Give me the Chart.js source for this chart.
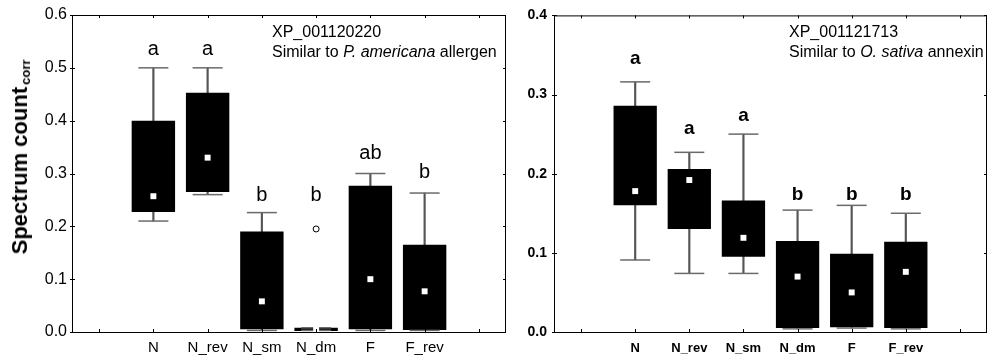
<!DOCTYPE html>
<html>
<head>
<meta charset="utf-8">
<script src="https://cdn.jsdelivr.net/npm/chart.js@4.4.1/dist/chart.umd.min.js"></script>
<style>
  body { margin: 0; background: #fff; font-family: "Liberation Sans", Arial, sans-serif; }
  #wrap { position: relative; width: 987px; height: 355px; overflow: hidden; }
  canvas { position: absolute; top: 0; }
  .note { position: absolute; font-size: 16px; line-height: 20px; color: #000; white-space: nowrap; }
  #ytitle { position: absolute; left: 20px; top: 157px; transform: translate(-50%, -50%) rotate(-90deg);
            font-weight: bold; font-size: 22px; white-space: nowrap; }
  #ytitle sub { font-size: 13px; vertical-align: -3px; margin-left: 2px; }
</style>
</head>
<body>
<div id="wrap">
  <canvas id="leftChart" width="510" height="355" style="left:0"></canvas>
  <canvas id="rightChart" width="477" height="355" style="left:510px"></canvas>
  <div id="ytitle">Spectrum count<sub>corr</sub></div>
  <div class="note" style="left:272px; top:22px">XP_001120220<br>Similar to <i>P. americana</i> allergen</div>
  <div class="note" style="left:789px; top:22px">XP_001121713<br>Similar to <i>O. sativa</i> annexin</div>
</div>
<script>
const labels = ['', 'N', 'N_rev', 'N_sm', 'N_dm', 'F', 'F_rev', ''];

// left panel: XP_001120220
const leftMin    = [null, 0.210, 0.260, 0.003, 0.003, 0.003, 0.003, null];
const leftQ1     = [null, 0.227, 0.265, 0.005, 0.002, 0.005, 0.004, null];
const leftMedian = [null, 0.257, 0.330, 0.058, 0.005, 0.100, 0.077, null];
const leftQ3     = [null, 0.400, 0.453, 0.190, 0.008, 0.277, 0.165, null];
const leftMax    = [null, 0.500, 0.500, 0.226, 0.008, 0.300, 0.263, null];
const leftOutlier = [null, null, null, null, 0.195, null, null, null];
const leftLetters = ['', 'a', 'a', 'b', 'b', 'ab', 'b', ''];
const leftLetterY = [null, 0.534, 0.534, 0.259, 0.259, 0.338, 0.301, null];

// right panel: XP_001121713
const rightMin    = [null, 0.091, 0.074, 0.074, 0.004, 0.005, 0.004, null];
const rightQ1     = [null, 0.160, 0.130, 0.095, 0.005, 0.006, 0.005, null];
const rightMedian = [null, 0.178, 0.192, 0.119, 0.070, 0.050, 0.076, null];
const rightQ3     = [null, 0.286, 0.206, 0.166, 0.115, 0.099, 0.114, null];
const rightMax    = [null, 0.316, 0.227, 0.250, 0.154, 0.160, 0.150, null];
const rightOutlier = [null, null, null, null, null, null, null, null];
const rightLetters = ['', 'a', 'a', 'a', 'b', 'b', 'b', ''];
const rightLetterY = [null, 0.345, 0.257, 0.273, 0.174, 0.174, 0.174, null];

const FONT = '"Liberation Sans", Arial, sans-serif';

// box frame with small inward ticks on all four sides
const framePlugin = {
  id: 'frame',
  afterDraw(chart) {
    const ctx = chart.ctx, a = chart.chartArea;
    const xs = chart.scales.x, ys = chart.scales.y;
    ctx.save();
    ctx.strokeStyle = '#000';
    ctx.lineWidth = 1;
    ctx.strokeRect(a.left + 0.5, a.top + 0.5, a.right - a.left - 1, a.bottom - a.top);
    ctx.beginPath();
    xs.ticks.forEach((t, i) => {
      const x = Math.round(xs.getPixelForTick(i)) + 0.5;
      ctx.moveTo(x, a.top); ctx.lineTo(x, a.top + 3);
      ctx.moveTo(x, a.bottom); ctx.lineTo(x, a.bottom - 3);
    });
    ys.ticks.forEach(t => {
      const y = Math.round(ys.getPixelForValue(t.value)) + 0.5;
      ctx.moveTo(a.left - 2, y); ctx.lineTo(a.left + 3, y);
      ctx.moveTo(a.right, y); ctx.lineTo(a.right - 3, y);
    });
    ctx.stroke();
    ctx.restore();
  }
};

// significance letters above the boxes
const lettersPlugin = {
  id: 'letters',
  afterDatasetsDraw(chart, args, opts) {
    const ctx = chart.ctx;
    ctx.save();
    ctx.fillStyle = '#000';
    ctx.font = opts.font;
    ctx.textAlign = 'center';
    ctx.textBaseline = 'middle';
    opts.text.forEach((s, i) => {
      if (!s) return;
      ctx.fillText(s, chart.scales.x.getPixelForValue(i), chart.scales.y.getPixelForValue(opts.y[i]));
    });
    ctx.restore();
  }
};

function boxDatasets(min, q1, med, q3, max, outl) {
  const range = (lo, hi) => lo.map((v, i) => v == null ? null : [v, hi[i]]);
  const cap = (data) => ({
    type: 'line', data: data, showLine: false, pointStyle: 'line', pointRadius: 15,
    borderColor: '#6a6a6a', borderWidth: 1.5, order: 2, clip: false
  });
  return [
    { type: 'bar', data: range(min, max), backgroundColor: '#555', barThickness: 1.5, grouped: false, order: 4 },
    { type: 'bar', data: range(q1, q3), backgroundColor: '#000', barPercentage: 0.8, categoryPercentage: 1, grouped: false, order: 3 },
    cap(min),
    cap(max),
    { type: 'line', data: outl, showLine: false, pointStyle: 'circle', pointRadius: 3,
      backgroundColor: '#fff', borderColor: '#000', borderWidth: 1, order: 1 },
    { type: 'line', data: med, showLine: false, pointStyle: 'rect', pointRadius: 4.2,
      backgroundColor: '#fff', borderWidth: 0, order: 0, clip: false }
  ];
}

function makeConfig(ds, yMax, yWidth, padRight, tickFont, xFont, xPad, letters, letterY, letterFont, yPad) {
  return {
    type: 'bar',
    data: { labels: labels, datasets: ds },
    options: {
      responsive: false,
      animation: false,
      layout: { autoPadding: false, padding: { top: 15, right: padRight, left: 0, bottom: 0 } },
      plugins: {
        legend: { display: false },
        tooltip: { enabled: false },
        letters: { text: letters, y: letterY, font: letterFont }
      },
      scales: {
        x: {
          offset: true,
          grid: { display: false, drawTicks: false },
          border: { display: false },
          ticks: { color: '#000', font: xFont, padding: xPad, maxRotation: 0, autoSkip: false },
          afterFit: s => { s.height = 23; }
        },
        y: {
          min: 0, max: yMax,
          grid: { display: false, drawTicks: false },
          border: { display: false },
          ticks: { stepSize: 0.1, color: '#000', font: tickFont, padding: yPad, callback: v => v.toFixed(1) },
          afterFit: s => { s.width = yWidth; }
        }
      }
    },
    plugins: [framePlugin, lettersPlugin]
  };
}

const leftChart = new Chart(
  document.getElementById('leftChart'),
  makeConfig(
    boxDatasets(leftMin, leftQ1, leftMedian, leftQ3, leftMax, leftOutlier),
    0.6, 72, 4,
    { family: FONT, size: 16 }, { family: FONT, size: 15 }, 7,
    leftLetters, leftLetterY, '20px ' + FONT, 5
  )
);

const rightChart = new Chart(
  document.getElementById('rightChart'),
  makeConfig(
    boxDatasets(rightMin, rightQ1, rightMedian, rightQ3, rightMax, rightOutlier),
    0.4, 44, 0,
    { family: FONT, size: 14, weight: 'bold' }, { family: FONT, size: 13, weight: 'bold' }, 9,
    rightLetters, rightLetterY, 'bold 19px ' + FONT, 7
  )
);
</script>
</body>
</html>
